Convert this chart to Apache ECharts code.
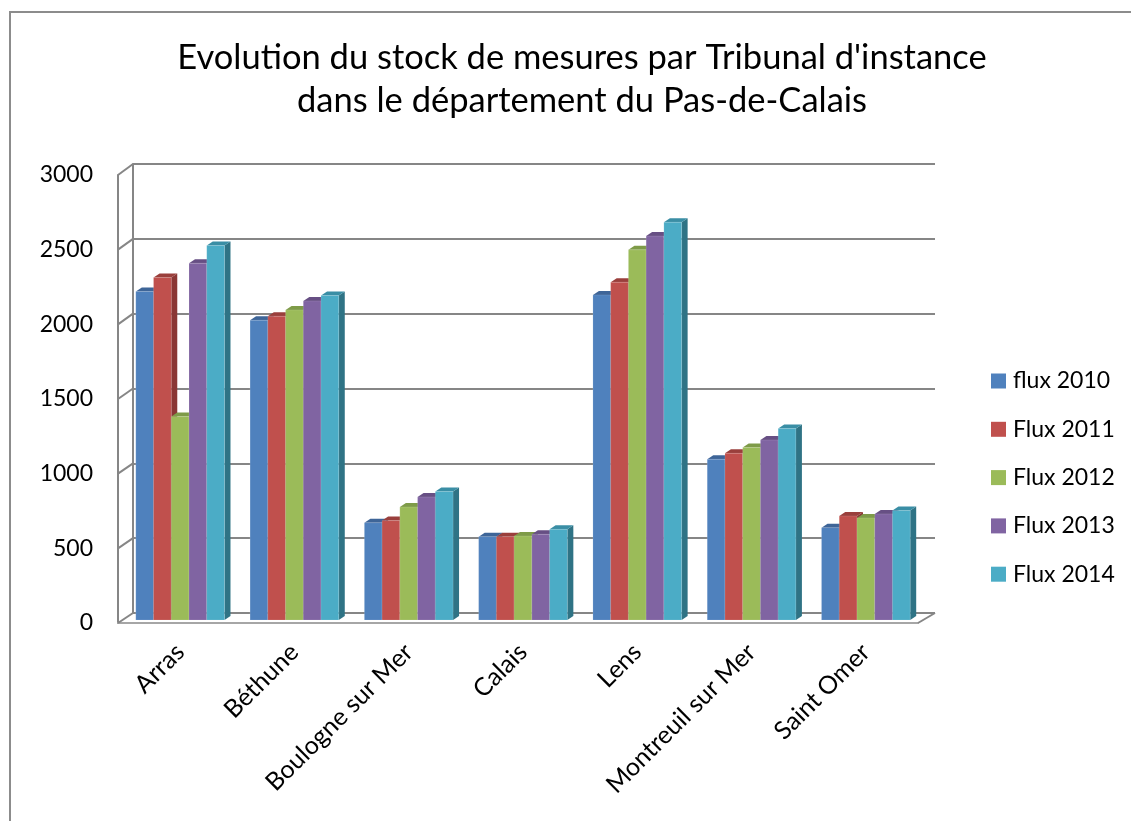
<!DOCTYPE html>
<html><head><meta charset="utf-8">
<script src="https://cdn.jsdelivr.net/npm/echarts@6/dist/echarts.min.js"></script>
<style>html,body{margin:0;padding:0;background:#fff}#c{width:1131px;height:821px}</style>
</head><body><div id="c"></div>
<script>
const titleText = "Evolution du stock de mesures par Tribunal d'instance\ndans le département du Pas-de-Calais";
const categories = ['Arras', 'Béthune', 'Boulogne sur Mer', 'Calais', 'Lens', 'Montreuil sur Mer', 'Saint Omer'];
const seriesNames = ['flux 2010', 'Flux 2011', 'Flux 2012', 'Flux 2013', 'Flux 2014'];
const flux2010 = [2195, 2003, 650, 557, 2172, 1074, 617];
const flux2011 = [2288, 2030, 664, 557, 2257, 1114, 695];
const flux2012 = [1359, 2072, 755, 561, 2473, 1152, 682];
const flux2013 = [2384, 2132, 822, 573, 2565, 1203, 709];
const flux2014 = [2502, 2168, 858, 606, 2658, 1279, 731];
const yMin = 0, yMax = 3000, yStep = 500;

const allValues = [flux2010, flux2011, flux2012, flux2013, flux2014];
const colors = ['#4F81BD', '#C0504D', '#9BBB59', '#8064A2', '#4BACC6'];
const sideColors = ['#375C8A', '#8A3735', '#6F8940', '#5B4775', '#2F7385'];
const topColors = ['#3E6598', '#9A3F3C', '#7E9B48', '#674F84', '#3A8EA5'];
const FONT = 'Lato, "Open Sans", sans-serif';

const chart = echarts.init(document.getElementById('c'), null, {renderer: 'canvas'});

const DX = 6, DY = 4;
function renderItem(params, api) {
  const si = params.seriesIndex;
  const ci = api.value(0), v = api.value(1);
  const base = api.coord([ci, 0]);
  const top = api.coord([ci, v]);
  const band = api.size([1, 0])[0];
  const bw = band * 0.1552;
  const x0 = base[0] + (si - 2.5) * bw;
  const yT = top[1], yB = base[1];
  return {
    type: 'group',
    children: [
      {type: 'polygon', shape: {points: [[x0 + bw, yT], [x0 + bw + DX, yT - DY], [x0 + bw + DX, yB - DY], [x0 + bw, yB]]},
        style: {fill: sideColors[si]}},
      {type: 'polygon', shape: {points: [[x0, yT], [x0 + DX, yT - DY], [x0 + bw + DX, yT - DY], [x0 + bw, yT]]},
        style: {fill: topColors[si]}},
      {type: 'rect', shape: {x: x0, y: yT, width: bw, height: yB - yT},
        style: {fill: colors[si], stroke: 'rgba(255,255,255,0.25)', lineWidth: 0.5}}
    ]
  };
}

const series = seriesNames.map((name, si) => ({
  name: name,
  type: 'custom',
  xAxisIndex: 0, yAxisIndex: 0,
  itemStyle: {color: colors[si]},
  renderItem: renderItem,
  data: allValues[si].map((v, ci) => [ci, v]),
  z: 5
}));

const GRID_BARS = {left: 123, top: 171, width: 800, height: 449};
const GRID_BACK = {left: 133, top: 164, width: 802, height: 449};
const GRID_FRONT = {left: 118, top: 175, width: 800, height: 448};

chart.setOption({
  backgroundColor: '#fff',
  animation: false,
  title: {
    text: titleText,
    left: 577, top: 31, textAlign: 'center',
    textStyle: {fontFamily: FONT, fontSize: 34.5, fontWeight: 'normal', color: '#000', lineHeight: 43}
  },
  legend: {
    orient: 'vertical', left: 991, top: 369, padding: 0,
    icon: 'rect', itemWidth: 15, itemHeight: 15, itemGap: 24.3,
    textStyle: {fontFamily: FONT, fontSize: 23, color: '#000', lineHeight: 24, padding: [0, 0, 0, 2]},
    data: seriesNames
  },
  grid: [
    Object.assign({containLabel: false}, GRID_BARS),
    Object.assign({containLabel: false}, GRID_BACK),
    Object.assign({containLabel: false}, GRID_FRONT)
  ],
  xAxis: [
    {type: 'category', gridIndex: 0, data: categories,
      axisLine: {show: false}, axisTick: {show: false}, splitLine: {show: false},
      axisLabel: {rotate: 45, margin: 28, interval: 0, fontFamily: FONT, fontSize: 25, color: '#000'}},
    {type: 'category', gridIndex: 1, data: categories, show: false},
    {type: 'category', gridIndex: 2, data: categories,
      axisLine: {show: true, lineStyle: {color: '#a6a6a6', width: 2}},
      axisTick: {show: false}, axisLabel: {show: false}, splitLine: {show: false}}
  ],
  yAxis: [
    {type: 'value', gridIndex: 0, min: yMin, max: yMax, interval: yStep, show: false, splitLine: {show: false}},
    {type: 'value', gridIndex: 1, min: yMin, max: yMax, interval: yStep,
      axisLine: {show: true, lineStyle: {color: '#868686', width: 2}},
      axisTick: {show: false}, axisLabel: {show: false},
      splitLine: {show: true, lineStyle: {color: '#868686', width: 2}}},
    {type: 'value', gridIndex: 2, min: yMin, max: yMax, interval: yStep,
      axisLine: {show: true, lineStyle: {color: '#868686', width: 2}},
      axisTick: {show: false}, splitLine: {show: false},
      axisLabel: {margin: 25, fontFamily: FONT, fontSize: 23, color: '#000', padding: [4, 0, 0, 0], formatter: v => String(v)}}
  ],
  series: series
});

// 3D frame: left wall diagonals and floor, derived from the axes
const ticks = [];
for (let v = yMin; v <= yMax; v += yStep) ticks.push(v);
const graphics = [];
ticks.forEach(v => {
  const yf = chart.convertToPixel({yAxisIndex: 2}, v);
  const yb = chart.convertToPixel({yAxisIndex: 1}, v);
  graphics.push({type: 'line', shape: {x1: GRID_FRONT.left, y1: yf, x2: GRID_BACK.left, y2: yb},
    style: {stroke: '#868686', lineWidth: 2}, z: 1});
});
const yf0 = chart.convertToPixel({yAxisIndex: 2}, 0);
const yb0 = chart.convertToPixel({yAxisIndex: 1}, 0);
graphics.push({type: 'line', shape: {x1: GRID_FRONT.left + GRID_FRONT.width, y1: yf0, x2: GRID_BACK.left + GRID_BACK.width, y2: yb0},
  style: {stroke: '#868686', lineWidth: 2}, z: 1});
graphics.push({type: 'rect', shape: {x: 10, y: 12, width: 1200, height: 900},
  style: {fill: 'none', stroke: '#8c8c8c', lineWidth: 2}, z: 0});
chart.setOption({graphic: graphics});
</script>
</body></html>
